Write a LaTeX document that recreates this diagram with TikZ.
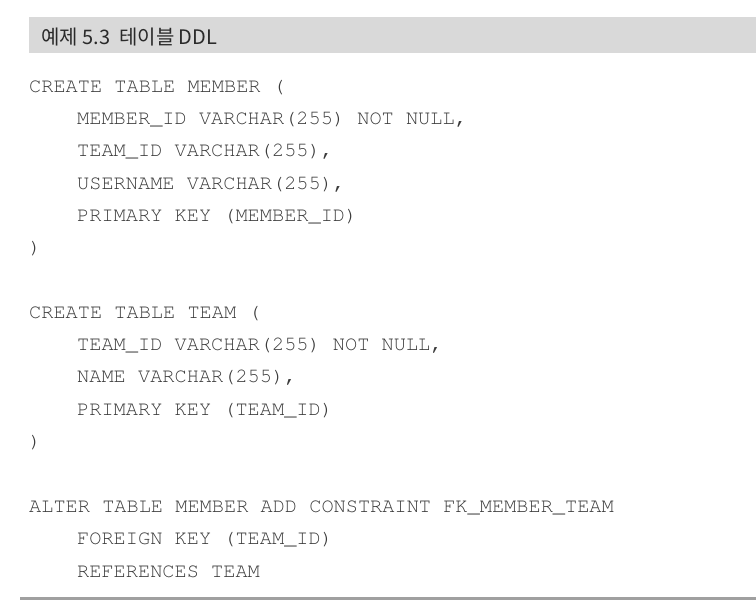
\documentclass[tikz,border=0pt]{standalone}
\usepackage[T1]{fontenc}
\usepackage{fontspec}
\newfontfamily\krfont{Noto Sans CJK KR}
\newcommand\codefont{\fontencoding{T1}\fontfamily{pcr}\selectfont}
\definecolor{barfill}{HTML}{D9D9D9}
\definecolor{codegray}{HTML}{3A3A3A}
\definecolor{headgray}{HTML}{2A2A2A}
\definecolor{rulegray}{HTML}{A0A0A0}
\tikzset{
	codeline/.style={anchor=base west, inner sep=0, text=codegray, font=\codefont\fontsize{20.3}{24}\selectfont},
	headline/.style={anchor=base west, inner sep=0, text=headgray, font=\krfont\fontsize{20}{24}\selectfont}
}
\begin{document}
\begin{tikzpicture}[x=1pt, y=-1pt]
		\useasboundingbox (0, 0) rectangle (756, 616);
		\fill[barfill] (29, 17) rectangle (756, 53);
		\node[headline] (title) at (41, 44) {예제 5.3\ \ 테이블 DDL};
		\node[codeline] (m1) at (29, 92) {CREATE TABLE MEMBER (};
		\node[codeline] (m2) at (77, 124) {MEMBER\_ID VARCHAR(255) NOT NULL,};
		\node[codeline] (m3) at (77, 156.5) {TEAM\_ID VARCHAR(255),};
		\node[codeline] (m4) at (77, 189) {USERNAME VARCHAR(255),};
		\node[codeline] (m5) at (77, 221) {PRIMARY KEY (MEMBER\_ID)};
		\node[codeline] (m6) at (29, 253) {)};
		\node[codeline] (t1) at (29, 318) {CREATE TABLE TEAM (};
		\node[codeline] (t2) at (77, 350) {TEAM\_ID VARCHAR(255) NOT NULL,};
		\node[codeline] (t3) at (77, 382.5) {NAME VARCHAR(255),};
		\node[codeline] (t4) at (77, 415) {PRIMARY KEY (TEAM\_ID)};
		\node[codeline] (t5) at (29, 447) {)};
		\node[codeline] (a1) at (29, 512) {ALTER TABLE MEMBER ADD CONSTRAINT FK\_MEMBER\_TEAM};
		\node[codeline] (a2) at (77, 544.5) {FOREIGN KEY (TEAM\_ID)};
		\node[codeline] (a3) at (77, 577) {REFERENCES TEAM};
		\draw[rulegray, line width=3] (20, 598.5) -- (756, 598.5);
	\end{tikzpicture}
\end{document}
